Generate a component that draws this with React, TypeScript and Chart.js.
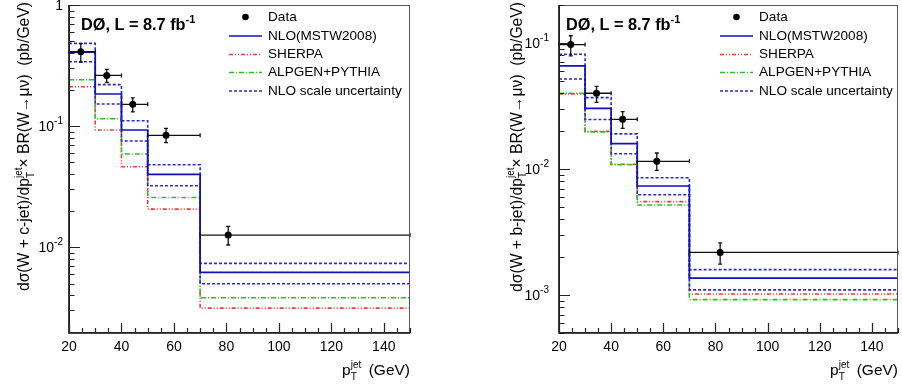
import React, { useEffect, useRef } from 'react';
import { Chart, registerables } from 'chart.js';
Chart.register(...registerables);

// ---------- data ----------
const binEdges = [20, 30, 40, 50, 70, 150];
const xTicks = [20, 40, 60, 80, 100, 120, 140];
const legendLabels = ['Data', 'NLO(MSTW2008)', 'SHERPA', 'ALPGEN+PYTHIA', 'NLO scale uncertainty'];

// W + c-jet
const cDataX = [24.5, 34.4, 44.3, 57.0, 80.7];
const cData = [0.411, 0.262, 0.151, 0.0838, 0.01256];
const cDataUp = [0.48, 0.294, 0.171, 0.0955, 0.0148];
const cDataDown = [0.338, 0.229, 0.131, 0.0729, 0.0104];
const cNLO = [0.407, 0.184, 0.0927, 0.0399, 0.00618];
const cNLOHigh = [0.482, 0.22, 0.1106, 0.0479, 0.00733];
const cNLOLow = [0.34, 0.152, 0.0752, 0.0321, 0.00498];
const cSherpa = [0.211, 0.0927, 0.0461, 0.0206, 0.00313];
const cAlpgen = [0.241, 0.115, 0.0587, 0.0257, 0.00381];
const cYTicks = [0.01, 0.1, 1];
const cYTickLabels = [['10', '-2'], ['10', '-1'], ['1', '']];

// W + b-jet
const bDataX = [24.5, 34.4, 44.4, 57.5, 81.8];
const bData = [0.097, 0.0399, 0.0248, 0.0115, 0.00218];
const bDataUp = [0.114, 0.0453, 0.0285, 0.0134, 0.00259];
const bDataDown = [0.079, 0.0338, 0.021, 0.00976, 0.00176];
const bNLO = [0.0657, 0.0303, 0.0159, 0.00733, 0.00136];
const bNLOHigh = [0.0813, 0.0368, 0.019, 0.00853, 0.00159];
const bNLOLow = [0.0518, 0.0247, 0.0132, 0.00625, 0.0011];
const bSherpa = [0.0394, 0.0199, 0.0109, 0.00551, 0.00102];
const bAlpgen = [0.0399, 0.0197, 0.0108, 0.00518, 0.00092];
const bYTicks = [0.001, 0.01, 0.1];
const bYTickLabels = [['10', '-3'], ['10', '-2'], ['10', '-1']];

// ---------- style ----------
const FONT = "'Liberation Sans', Arial, Helvetica, sans-serif";
const C_NLO = '#1010c0';
const C_SCALE = '#2a2ad2';
const C_SHERPA = '#ff3333';
const C_ALPGEN = '#1ec81e';
const D_SCALE = [3, 2];
const D_SHERPA = [4, 2, 1, 2, 1, 2];
const D_ALPGEN = [5, 2, 1, 2];

const toStep = (vals: number[]) =>
  binEdges.map((e, i) => ({ x: e, y: vals[Math.min(i, vals.length - 1)] }));

type Part = { t?: string; size: number; dy?: number; bold?: boolean; sub?: string; sup?: string };

function partWidth(ctx: CanvasRenderingContext2D, p: Part) {
  ctx.font = `${p.bold ? 'bold ' : ''}${p.size}px ${FONT}`;
  if (p.sub !== undefined || p.sup !== undefined) {
    return Math.max(ctx.measureText(p.sub || '').width, ctx.measureText(p.sup || '').width);
  }
  return ctx.measureText(p.t || '').width;
}

function drawParts(ctx: CanvasRenderingContext2D, parts: Part[], x: number, y: number, align: 'left' | 'right') {
  const widths = parts.map((p) => partWidth(ctx, p));
  const total = widths.reduce((a, b) => a + b, 0);
  let cx = align === 'right' ? x - total : x;
  ctx.textAlign = 'left';
  ctx.textBaseline = 'alphabetic';
  parts.forEach((p, i) => {
    ctx.font = `${p.bold ? 'bold ' : ''}${p.size}px ${FONT}`;
    if (p.sub !== undefined || p.sup !== undefined) {
      if (p.sup) ctx.fillText(p.sup, cx, y - p.size * 0.75);
      if (p.sub) ctx.fillText(p.sub, cx, y + p.size * 0.45);
    } else {
      ctx.fillText(p.t || '', cx, y + (p.dy || 0));
    }
    cx += widths[i];
  });
}

type PanelCfg = {
  left: number;
  yWidth: number;
  padRight: number;
  yMin: number;
  yMax: number;
  yTicks: number[];
  yTickLabels: string[][];
  labelGap: number;
  titleX: number;
  titleParticle: string;
  dataX: number[];
  data: number[];
  dataUp: number[];
  dataDown: number[];
  nlo: number[];
  nloHigh: number[];
  nloLow: number[];
  sherpa: number[];
  alpgen: number[];
  textX: number;
  legendX: number;
};

function Panel({ cfg }: { cfg: PanelCfg }) {
  const ref = useRef<HTMLCanvasElement>(null);
  useEffect(() => {
    const canvas = ref.current!;
    const decor = {
      id: 'decor',
      beforeDatasetDraw(chart: any, args: any) {
        if (args.index !== 0) return;
        const ctx = chart.ctx as CanvasRenderingContext2D;
        const xs = chart.scales.x;
        const ys = chart.scales.y;
        ctx.save();
        ctx.strokeStyle = '#111';
        ctx.lineWidth = 1.3;
        cfg.data.forEach((v, i) => {
          const x0 = xs.getPixelForValue(binEdges[i]);
          const x1 = xs.getPixelForValue(binEdges[i + 1]);
          const px = xs.getPixelForValue(cfg.dataX[i]);
          const py = ys.getPixelForValue(v);
          const pu = ys.getPixelForValue(cfg.dataUp[i]);
          const pd = ys.getPixelForValue(cfg.dataDown[i]);
          ctx.beginPath();
          ctx.moveTo(x0, py); ctx.lineTo(x1, py);
          ctx.moveTo(x0, py - 2); ctx.lineTo(x0, py + 2);
          ctx.moveTo(x1, py - 2); ctx.lineTo(x1, py + 2);
          ctx.moveTo(px, pu); ctx.lineTo(px, pd);
          ctx.moveTo(px - 2, pu); ctx.lineTo(px + 2, pu);
          ctx.moveTo(px - 2, pd); ctx.lineTo(px + 2, pd);
          ctx.stroke();
        });
        ctx.restore();
      },
      afterDraw(chart: any) {
        const ctx = chart.ctx as CanvasRenderingContext2D;
        const a = chart.chartArea;
        const xs = chart.scales.x;
        const ys = chart.scales.y;
        ctx.save();
        // frame
        ctx.strokeStyle = '#555';
        ctx.lineWidth = 1;
        ctx.strokeRect(a.left + 0.5, a.top + 0.5, a.right - a.left - 1, a.bottom - a.top - 1);
        ctx.strokeStyle = '#111';
        ctx.lineWidth = 1.6;
        ctx.beginPath();
        ctx.moveTo(a.left, a.top); ctx.lineTo(a.left, a.bottom); ctx.lineTo(a.right, a.bottom);
        ctx.stroke();
        // x ticks
        ctx.lineWidth = 1.2;
        ctx.strokeStyle = '#222';
        ctx.beginPath();
        for (let v = 20; v <= 150; v += 5) {
          const px = Math.round(xs.getPixelForValue(v)) + 0.5;
          const len = v % 20 === 0 ? 10 : 5;
          ctx.moveTo(px, a.bottom); ctx.lineTo(px, a.bottom - len);
        }
        // y ticks
        const k0 = Math.floor(Math.log10(cfg.yMin));
        const k1 = Math.ceil(Math.log10(cfg.yMax));
        for (let k = k0; k <= k1; k++) {
          for (let m = 1; m <= 9; m++) {
            const v = m * Math.pow(10, k);
            if (v < cfg.yMin * 0.999 || v > cfg.yMax * 1.001) continue;
            const py = Math.round(ys.getPixelForValue(v)) + 0.5;
            const len = m === 1 ? 11 : 5.5;
            ctx.moveTo(a.left, py); ctx.lineTo(a.left + len, py);
          }
        }
        ctx.stroke();
        // x tick labels
        ctx.fillStyle = '#000';
        ctx.font = `14px ${FONT}`;
        ctx.textAlign = 'center';
        ctx.textBaseline = 'alphabetic';
        xTicks.forEach((v) => ctx.fillText(String(v), xs.getPixelForValue(v), 351));
        // y tick labels
        cfg.yTicks.forEach((v, i) => {
          const [base, exp] = cfg.yTickLabels[i];
          const py = ys.getPixelForValue(v);
          const parts: Part[] = [{ t: base, size: 14 }];
          if (exp) parts.push({ t: exp, size: 10, dy: -7 });
          drawParts(ctx, parts, a.left - cfg.labelGap, py + 5, 'right');
        });
        // x title
        drawParts(
          ctx,
          [
            { t: 'p', size: 15.5 },
            { sub: 'T', sup: 'jet', size: 10 },
            { t: ' \u2009(GeV)', size: 15.5 },
          ],
          a.right,
          375,
          'right'
        );
        // y title (rotated)
        ctx.save();
        ctx.translate(cfg.titleX, 2);
        ctx.rotate(-Math.PI / 2);
        drawParts(
          ctx,
          [
            { t: `dσ(W + ${cfg.titleParticle}-jet)/dp`, size: 15.7 },
            { sub: 'T', sup: 'jet', size: 10 },
            { t: '× BR(W→μν)  (pb/GeV)', size: 15.7 },
          ],
          0,
          0,
          'right'
        );
        ctx.restore();
        // experiment label
        drawParts(
          ctx,
          [
            { t: 'DØ, L = 8.7 fb', size: 16.3, bold: true },
            { t: '-1', size: 11, bold: true, dy: -7 },
          ],
          cfg.textX,
          30,
          'left'
        );
        // legend
        const lx = cfg.legendX;
        const rows = [17, 35.5, 54, 72, 90.5];
        const styles = [
          null,
          { c: C_NLO, d: [] as number[] },
          { c: C_SHERPA, d: D_SHERPA },
          { c: C_ALPGEN, d: D_ALPGEN },
          { c: C_SCALE, d: D_SCALE },
        ];
        legendLabels.forEach((lab, i) => {
          const y = rows[i];
          const st = styles[i];
          if (!st) {
            ctx.fillStyle = '#000';
            ctx.beginPath();
            ctx.arc(lx + 16.5, y, 3.3, 0, Math.PI * 2);
            ctx.fill();
          } else {
            ctx.strokeStyle = st.c;
            ctx.lineWidth = 1.5;
            ctx.setLineDash(st.d);
            ctx.beginPath();
            ctx.moveTo(lx, y + 0.5); ctx.lineTo(lx + 33, y + 0.5);
            ctx.stroke();
            ctx.setLineDash([]);
          }
          ctx.fillStyle = '#000';
          ctx.font = `13.6px ${FONT}`;
          ctx.textAlign = 'left';
          ctx.textBaseline = 'middle';
          ctx.fillText(lab, lx + 39, y + 0.5);
        });
        ctx.restore();
      },
    };

    const line = (vals: number[], color: string, dash: number[], width = 1.6) => ({
      data: toStep(vals),
      borderColor: color,
      borderWidth: width,
      borderDash: dash,
      stepped: true,
      pointRadius: 0,
      fill: false,
      tension: 0,
    });

    const chart = new Chart(canvas, {
      type: 'line',
      data: {
        datasets: [
          {
            data: cfg.dataX.map((x, i) => ({ x, y: cfg.data[i] })),
            showLine: false,
            pointRadius: 3.5,
            pointBackgroundColor: '#000',
            pointBorderColor: '#000',
            pointBorderWidth: 0,
          } as any,
          line(cfg.nlo, C_NLO, [], 1.7),
          line(cfg.nloHigh, C_SCALE, D_SCALE),
          line(cfg.nloLow, C_SCALE, D_SCALE),
          line(cfg.alpgen, C_ALPGEN, D_ALPGEN),
          line(cfg.sherpa, C_SHERPA, D_SHERPA),
        ],
      },
      options: {
        responsive: false,
        animation: false,
        devicePixelRatio: 1,
        events: [],
        layout: { padding: { left: 0, right: cfg.padRight, top: 5, bottom: 0 } },
        plugins: { legend: { display: false }, tooltip: { enabled: false } },
        scales: {
          x: {
            type: 'linear',
            min: 20,
            max: 150,
            ticks: { display: false },
            grid: { display: false },
            border: { display: false },
            afterFit: (s: any) => { s.height = 54; },
          },
          y: {
            type: 'logarithmic',
            min: cfg.yMin,
            max: cfg.yMax,
            bounds: 'data',
            ticks: { display: false },
            grid: { display: false },
            border: { display: false },
            afterFit: (s: any) => { s.width = cfg.yWidth; },
          },
        },
      } as any,
      plugins: [decor],
    });
    return () => chart.destroy();
  }, [cfg]);
  return (
    <canvas
      ref={ref}
      width={451}
      height={387}
      style={{ position: 'absolute', left: cfg.left, top: 0, width: 451, height: 387 }}
    />
  );
}

const leftCfg: PanelCfg = {
  left: 0, yWidth: 69, padRight: 41, yMin: 0.00195, yMax: 1,
  yTicks: cYTicks, yTickLabels: cYTickLabels, labelGap: 6, titleX: 29, titleParticle: 'c',
  dataX: cDataX, data: cData, dataUp: cDataUp, dataDown: cDataDown,
  nlo: cNLO, nloHigh: cNLOHigh, nloLow: cNLOLow, sherpa: cSherpa, alpgen: cAlpgen,
  textX: 81, legendX: 229,
};

const rightCfg: PanelCfg = {
  left: 451, yWidth: 108, padRight: 2, yMin: 0.0005, yMax: 0.2,
  yTicks: bYTicks, yTickLabels: bYTickLabels, labelGap: 10, titleX: 70.5, titleParticle: 'b',
  dataX: bDataX, data: bData, dataUp: bDataUp, dataDown: bDataDown,
  nlo: bNLO, nloHigh: bNLOHigh, nloLow: bNLOLow, sherpa: bSherpa, alpgen: bAlpgen,
  textX: 115, legendX: 269,
};

export default function App() {
  return (
    <div style={{ position: 'absolute', left: 0, top: 0, width: 902, height: 387, background: '#fff' }}>
      <Panel cfg={leftCfg} />
      <Panel cfg={rightCfg} />
    </div>
  );
}
